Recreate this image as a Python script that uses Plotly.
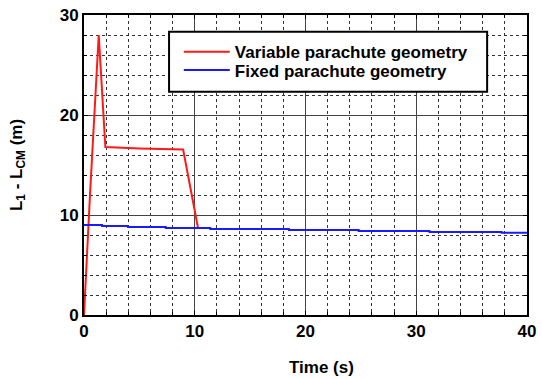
import plotly.graph_objects as go

# Variable parachute geometry: separation L1 - LCM (m) versus time (s)
t_var = [0.0, 0.1, 0.25, 0.55, 1.33, 1.93, 5.0, 8.95, 10.3]
l_var = [0.0, 2.0, 5.0, 12.2, 28.0, 16.8, 16.65, 16.55, 8.67]

# Fixed parachute geometry (stepwise decrease)
t_fix = [0.0, 1.63, 3.97, 7.38, 11.4, 18.5, 24.8, 31.2, 37.7, 40.0]
l_fix = [9.0, 8.9, 8.8, 8.7, 8.6, 8.5, 8.4, 8.3, 8.23, 8.23]

x_ticks = [0, 10, 20, 30, 40]
y_ticks = [0, 10, 20, 30]

FONT = "Liberation Sans, Arial, sans-serif"

fig = go.Figure()
fig.add_trace(go.Scatter(x=t_var, y=l_var, mode="lines", name="Variable parachute geometry",
                         line=dict(color="#ff1a1a", width=2), legend="legend"))
fig.add_trace(go.Scatter(x=t_fix, y=l_fix, mode="lines", name="Fixed parachute geometry",
                         line=dict(color="#1a1aff", width=2, shape="hv"), legend="legend2"))

axis_common = dict(
    showline=True, linecolor="black", linewidth=2, mirror="allticks",
    showgrid=True, gridcolor="#444444", gridwidth=1,
    ticks="inside", ticklen=4, tickcolor="black", tickwidth=1,
    zeroline=False, automargin=False,
    tickfont=dict(family=FONT, size=17, color="black", weight="bold"),
)
minor_common = dict(dtick=2, showgrid=True, gridcolor="#333333", griddash="dot",
                    gridwidth=1, ticks="inside", ticklen=3, tickcolor="black")

fig.update_xaxes(range=[0, 40], tickvals=x_ticks, **axis_common, minor=minor_common)
fig.update_yaxes(range=[0, 30], tickvals=y_ticks, **axis_common, minor=minor_common,
                 title=dict(text="<b>L<sub>1</sub> - L<sub>CM</sub> (m)</b>",
                            font=dict(family=FONT, size=17, color="black"), standoff=33))

# x-axis title
fig.add_annotation(text="<b>Time (s)</b>", xref="paper", yref="paper", x=0.537, y=-0.175,
                   xanchor="center", yanchor="middle", showarrow=False,
                   font=dict(family=FONT, size=17, color="black"))

# Legend frame
fig.add_shape(type="rect", xref="paper", yref="paper", x0=0.192, x1=0.91, y0=0.744, y1=0.944,
              line=dict(color="black", width=2), fillcolor="white", layer="above")

legend_common = dict(xanchor="left", yanchor="top", bgcolor="rgba(0,0,0,0)",
                     borderwidth=0, itemwidth=46,
                     font=dict(family=FONT, size=17, color="black", weight="bold"))

fig.update_layout(
    width=542, height=379,
    margin=dict(l=84, r=15, t=15, b=64),
    paper_bgcolor="white", plot_bgcolor="white",
    showlegend=True,
    legend=dict(x=0.214, y=0.936, **legend_common),
    legend2=dict(x=0.214, y=0.875, **legend_common),
)

fig.write_html("out.html")
